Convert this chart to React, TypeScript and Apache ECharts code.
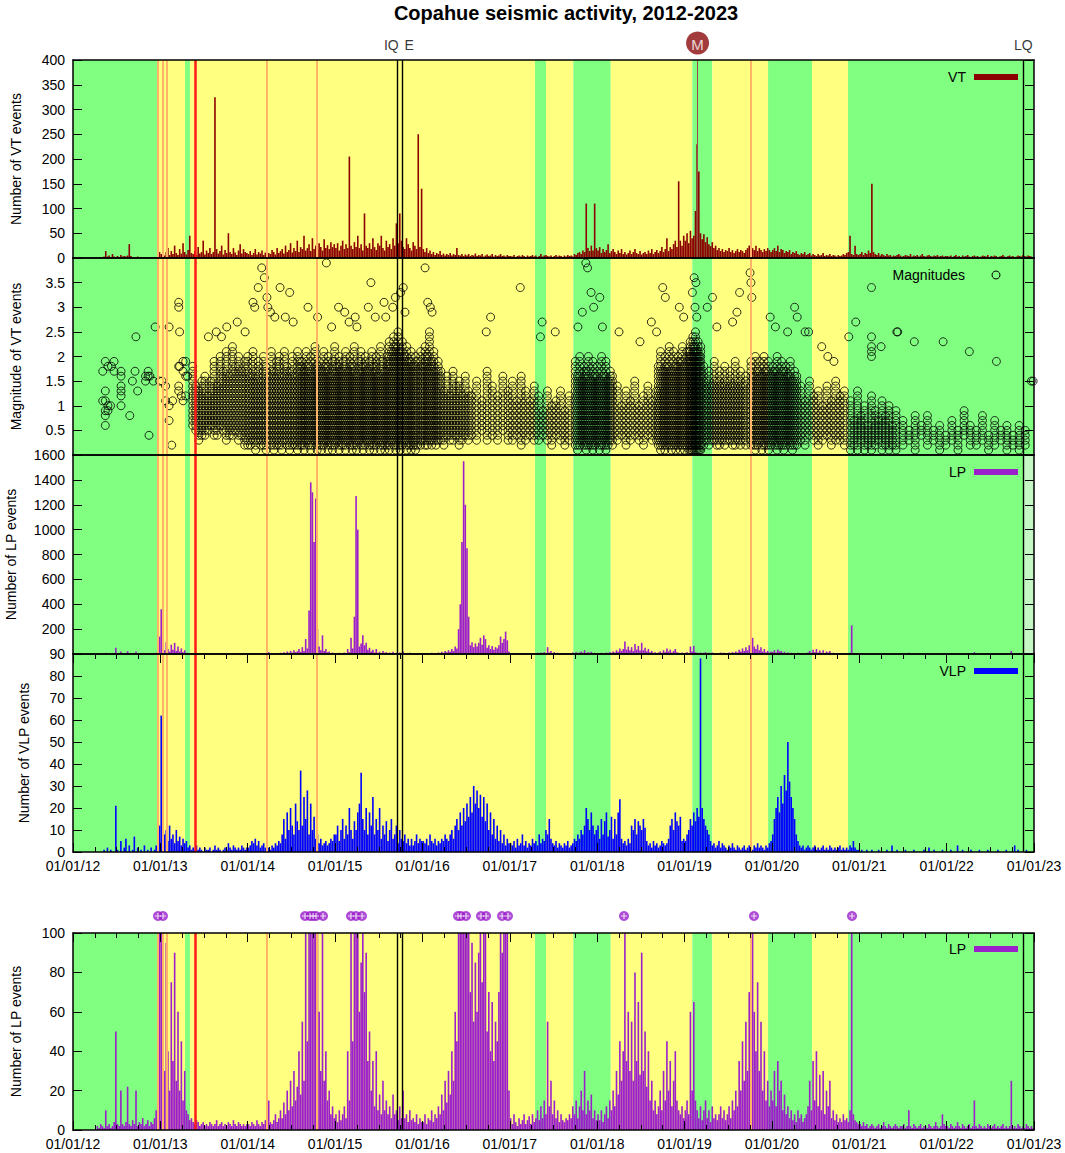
import { useEffect, useRef } from "react";
import * as echarts from "echarts";

const FONT = "'Liberation Sans', Arial, Helvetica, sans-serif";
const FIRST_YEAR = 2012;
const LAST_YEAR = 2023;
const WEEKS = 52;

// Weekly maximum of daily event counts, one row per year (2012 ... 2022), 52 weeks each.
const vtWeekly: number[] = [
  0,0,0,0,0,0,0,0,0,0,0,0,0,0,0,0,2,0,3,14,3,5,2,8,3,2,4,2,6,3,4,3,5,28,4,2,0,2,3,0,1,0,2,1,0,2,1,1,1,1,8,12,
  8,15,5,12,20,6,14,8,25,10,6,18,9,30,12,7,16,45,10,8,14,6,22,9,12,35,7,15,10,20,8,12,325,18,9,14,25,7,16,10,50,12,8,20,11,6,15,28,9,18,12,10,
  8,14,6,10,18,7,12,9,15,6,11,100,10,8,16,12,7,20,10,14,18,9,25,12,16,30,11,20,14,35,12,22,18,45,15,20,28,14,40,18,25,16,30,22,15,38,20,26,18,32,22,28,
  20,30,15,25,35,18,28,20,205,25,18,32,22,45,20,28,15,90,25,20,30,18,40,22,16,30,25,45,20,15,35,22,28,18,40,25,70,30,90,35,22,18,40,28,20,15,32,25,18,250,22,140,
  18,12,20,10,15,8,12,6,10,8,14,6,9,5,8,6,10,5,8,6,20,6,5,8,4,7,5,8,4,6,5,9,4,6,5,8,3,5,7,4,5,8,3,6,4,5,8,4,5,3,6,4,
  4,3,6,2,4,5,3,6,4,2,5,3,4,6,3,5,2,4,8,3,5,6,4,3,5,2,4,6,3,5,4,2,5,3,6,4,5,3,8,6,10,12,8,15,12,110,20,14,25,15,110,20,
  15,22,10,18,12,16,28,10,14,18,12,8,15,10,18,8,12,7,10,15,8,12,18,10,8,14,7,10,12,8,15,10,18,8,12,16,10,14,22,12,18,40,14,22,18,28,35,22,155,35,25,45,
  35,50,30,55,40,45,95,230,175,50,38,48,32,42,28,24,32,20,25,16,20,14,18,12,16,14,20,12,16,10,14,18,12,16,14,10,16,20,25,240,20,16,25,14,20,16,12,18,14,20,16,12,
  16,20,14,25,12,18,16,10,14,12,16,8,12,10,14,8,6,10,8,12,6,8,10,5,8,6,4,8,5,6,10,4,6,5,8,4,6,5,3,6,4,5,8,6,10,12,45,8,6,25,8,6,
  8,12,6,10,8,15,10,150,12,8,6,10,5,8,6,4,8,5,6,3,5,4,6,8,5,3,4,6,5,4,8,3,5,4,6,3,5,8,4,3,5,6,4,3,5,4,6,3,4,5,3,4,
  4,3,5,2,4,6,3,4,2,5,3,4,6,3,2,4,5,3,4,2,3,5,4,3,6,2,4,3,5,4,2,3,4,6,3,2,4,5,3,4,2,3,5,4,3,6,4,3,5,4,3,2,
];

const lpWeekly: number[] = [
  0,0,0,0,0,0,0,0,0,0,0,0,0,0,2,1,3,2,1,10,2,3,1,2,4,50,3,2,20,3,2,4,22,3,2,5,3,20,2,4,3,6,2,3,5,2,4,3,6,10,30,140,
  360,120,30,95,40,20,75,35,90,25,60,20,45,15,30,10,8,5,6,4,3,5,4,2,3,4,2,3,2,4,3,2,3,5,2,3,4,2,3,2,4,3,2,5,3,2,4,3,2,3,2,3,
  3,2,4,3,2,5,3,2,4,3,5,6,15,4,3,5,8,4,6,10,6,14,8,20,10,25,12,30,15,22,40,18,55,25,120,45,350,1380,1300,900,1250,200,60,30,150,25,40,15,20,8,12,6,
  8,4,10,5,8,12,6,40,15,130,45,300,1270,1000,60,85,150,70,90,35,50,20,35,12,40,10,18,8,25,10,15,8,12,6,18,8,10,5,12,6,20,6,8,4,10,5,6,4,8,3,6,4,
  4,8,3,6,5,10,4,8,6,12,8,18,10,25,14,30,18,40,25,60,45,200,400,900,1550,1200,850,300,70,95,55,85,60,90,130,75,150,120,50,70,40,65,35,55,45,70,140,90,120,180,110,20,
  6,3,8,4,2,6,3,5,8,3,5,7,3,8,4,6,10,5,12,6,15,8,55,12,25,8,15,6,10,4,8,5,4,6,5,8,6,12,8,15,6,12,20,10,30,8,15,10,18,6,10,5,
  8,5,10,4,8,12,6,15,10,20,12,30,18,45,25,40,100,35,60,30,55,25,80,35,65,28,90,30,50,22,40,15,25,10,15,8,12,20,10,30,15,45,20,35,12,25,40,15,10,8,12,6,
  10,15,8,60,20,65,15,10,6,12,5,10,15,6,10,4,12,6,8,5,8,12,6,10,5,8,12,6,15,10,20,12,35,20,45,25,55,30,70,45,130,60,40,75,30,55,20,40,15,25,12,20,
  15,30,12,35,20,25,10,18,8,12,6,10,5,8,4,10,6,8,4,6,8,12,25,10,35,15,40,12,28,10,30,8,20,12,25,6,10,5,8,4,6,4,8,5,6,4,10,230,8,5,4,3,
  3,2,4,2,3,1,2,3,2,1,2,3,1,2,4,2,1,3,2,1,2,3,2,1,2,2,3,1,2,10,2,1,3,2,1,2,3,1,2,2,1,3,2,1,2,4,2,1,2,8,3,2,
  2,1,3,2,1,2,4,2,1,3,2,1,2,3,1,2,15,2,1,3,2,1,2,1,3,2,1,2,3,1,2,1,2,3,1,2,1,2,25,1,2,1,3,2,1,2,1,3,2,1,2,1,
];

const vlpWeekly: number[] = [
  0,0,0,0,0,0,0,0,0,0,0,0,0,0,0,0,0,0,1,0,2,0,1,0,0,21,1,0,5,0,2,6,0,3,0,1,7,0,2,0,1,0,3,0,1,0,2,0,1,3,5,12,
  62,15,8,10,5,12,6,8,4,10,5,7,3,6,4,5,2,3,1,2,1,3,1,2,1,0,2,1,1,2,0,1,3,1,2,1,0,1,2,1,4,2,1,3,2,1,2,1,3,2,1,2,
  2,3,5,4,6,3,5,2,3,4,2,3,2,1,3,2,4,3,5,4,8,15,6,18,10,20,12,8,22,14,10,37,12,25,15,28,8,22,10,16,6,8,4,6,3,4,5,3,4,6,5,8,
  8,12,5,10,15,6,12,8,20,10,6,14,10,18,22,36,15,10,20,8,18,12,25,8,15,10,20,6,12,8,14,5,10,15,6,8,12,4,10,6,5,8,4,6,3,6,3,5,8,4,6,5,
  5,4,6,3,8,5,4,6,3,5,4,6,5,8,6,5,8,10,6,12,15,10,18,12,20,14,22,16,25,18,30,22,28,20,26,16,25,14,22,10,18,8,15,6,12,5,10,4,8,3,6,4,
  4,3,5,2,6,3,4,8,3,5,2,4,3,6,4,5,3,8,4,6,5,10,8,15,6,4,3,5,2,4,3,2,4,3,5,2,3,4,6,5,8,6,10,8,12,20,15,10,18,12,8,10,
  12,6,15,8,14,18,7,10,16,6,15,8,18,24,6,4,5,3,6,4,12,10,15,8,14,12,10,15,11,5,3,4,2,5,3,4,2,3,5,4,3,4,6,12,15,10,18,14,12,16,5,6,
  5,8,10,15,12,18,14,20,16,88,20,15,12,10,8,5,3,4,2,3,5,2,4,3,2,1,3,2,4,2,1,3,2,1,2,3,1,2,3,2,1,3,2,4,2,3,2,1,3,2,4,5,
  8,15,20,25,18,30,22,35,28,50,32,25,20,15,8,5,3,2,3,1,2,3,2,1,2,3,1,2,1,2,3,1,2,1,3,2,1,2,1,2,3,1,2,1,2,1,3,2,5,2,1,1,
  0,1,0,0,1,0,0,1,0,0,0,1,0,0,0,0,1,0,0,3,0,0,1,0,0,0,0,1,0,0,0,0,1,0,0,0,0,0,1,0,0,2,0,0,1,0,0,0,0,1,0,0,
  0,0,1,0,0,0,3,0,0,1,0,0,0,0,1,0,0,0,0,1,0,0,0,0,1,0,0,0,0,0,1,0,0,0,0,1,0,0,0,0,3,0,1,0,0,0,0,1,0,0,0,0,
];

// Dates of the large LP swarms (marked above the bottom panel)
const lpSwarmDates: number[] = [
  2012.973, 2013.03, 2014.656, 2014.713, 2014.748, 2014.782, 2014.862, 2015.182, 2015.239, 2015.308,
  2016.407, 2016.441, 2016.498, 2016.67, 2016.728, 2016.911, 2016.979, 2018.307, 2019.795, 2020.917,
];

// VT magnitudes (tenths). Dense periods: columns sampled every `step` years; each column
// holds every 0.1 magnitude step recorded between lo and hi.
type MagSegment = { start: number; step: number; lo: number[]; hi: number[] };
const magSegments: MagSegment[] = [
  { start: 2013.37, step: 0.035,
    lo: [6,5,3,4,4,5,6,4,4,6,5,3,4,4,5,3,4,2],
    hi: [18,14,13,15,16,12,15,19,14,20,17,21,16,22,18,20,17,19] },
  { start: 2014.0, step: 0.03,
    lo: [2,2,3,1,3,2,2,1,3,2,1,2,2,1,3,2,1,2,2,1,2],
    hi: [20,16,21,17,19,15,20,18,16,21,17,19,20,16,21,18,17,20,16,21,19] },
  { start: 2014.62, step: 0.025,
    lo: [2,1,3,2,1,2,3,1,2,1,2,3,1,2,1,2,3,1,2,2,1,3,2,1,2,1,3,2,1,2,3,1,2,1,2,3,1,2,1,2,1,3,2,1,2,1,2,3,1,2,1,2,1,2],
    hi: [19,17,21,18,20,16,22,18,19,17,21,18,20,16,19,22,18,20,17,19,21,17,20,18,22,16,19,21,18,20,17,19,21,18,20,16,22,19,17,20,23,21,24,22,25,21,23,20,22,19,21,18,20,19] },
  { start: 2015.98, step: 0.025,
    lo: [2,3,2,2,3,2,3,2,3],
    hi: [21,18,22,20,25,19,21,17,19] },
  { start: 2016.21, step: 0.035,
    lo: [3,2,4,3,3,4,2,3,4,3],
    hi: [17,13,16,12,17,14,15,12,16,13] },
  { start: 2016.56, step: 0.06,
    lo: [4,3,5,3,4,3,5,3],
    hi: [12,15,11,17,14,12,16,13] },
  { start: 2017.03, step: 0.05,
    lo: [3,4,2,3,4,3],
    hi: [15,11,16,13,11,14] },
  { start: 2017.33, step: 0.05,
    lo: [3,4,3,2,4,3,2,3],
    hi: [12,9,13,10,11,13,9,12] },
  { start: 2017.75, step: 0.025,
    lo: [2,1,2,3,2,1,2,2,1,2,3,1,2,2,1,2,3,2],
    hi: [19,16,20,15,18,17,20,15,19,16,18,15,20,16,19,15,17,16] },
  { start: 2018.23, step: 0.05,
    lo: [3,4,2,3,4,3,2,4,3,3],
    hi: [14,10,13,11,15,10,12,14,11,13] },
  { start: 2018.7, step: 0.025,
    lo: [2,1,2,1,2,2,1,2,1,2,1,2,1,2],
    hi: [18,21,17,20,18,22,17,21,18,20,19,22,18,21] },
  { start: 2019.05, step: 0.015,
    lo: [1,1,1,1,1,1,1,1,1,1],
    hi: [21,23,20,24,22,25,21,23,20,22] },
  { start: 2019.22, step: 0.03,
    lo: [2,3,2,3,3,2,2,3,2,3,3,2,2,3,2,3,2],
    hi: [18,15,17,14,19,15,17,14,18,15,17,14,19,15,17,14,16] },
  { start: 2019.76, step: 0.025,
    lo: [2,2,1,2,3,1,2,2,1,2,3,2,1,2,2,1,2,3,2,1,2,2],
    hi: [19,16,20,17,19,16,20,17,19,16,18,17,20,16,19,17,18,16,19,15,17,16] },
  { start: 2020.33, step: 0.05,
    lo: [3,2,4,3,2,3,4,2,3,3,2],
    hi: [14,11,15,12,13,10,14,11,15,12,13] },
  { start: 2020.9, step: 0.04,
    lo: [1,2,1,3,1,2,1,2,3,1,2,1,2,1],
    hi: [11,7,13,8,10,6,12,9,7,11,8,10,6,9] },
  { start: 2021.5, step: 0.07,
    lo: [2,3,1,4,2,3,1,2,3,1,4,2,2,3,1,2,3,1,2,1,2],
    hi: [7,5,8,6,8,5,6,4,7,5,9,6,5,8,4,7,5,6,4,6,5] },
];

// Individual magnitude readings [date, magnitude x10]
const magSingles: [number, number][] = [
  [2012.34,17],[2012.34,11],[2012.37,19],[2012.37,13],[2012.37,11],[2012.37,9],[2012.37,8],[2012.37,6],
  [2012.40,18],[2012.40,10],[2012.40,9],[2012.43,10],[2012.44,18],[2012.47,19],[2012.47,17],
  [2012.55,17],[2012.55,16],[2012.55,14],[2012.55,13],[2012.55,12],[2012.55,10],
  [2012.65,8],[2012.68,15],[2012.71,17],[2012.72,24],[2012.74,13],[2012.83,15],[2012.83,16],
  [2012.86,17],[2012.86,16],[2012.87,4],[2012.88,16],[2012.92,15],[2012.94,26],
  [2012.99,15],[2013.02,15],[2013.06,14],[2013.06,11],[2013.10,26],[2013.10,10],[2013.10,7],
  [2013.13,2],[2013.14,11],[2013.21,31],[2013.21,30],[2013.21,18],[2013.21,14],[2013.21,13],
  [2013.22,25],[2013.22,18],[2013.24,12],[2013.26,19],[2013.26,11],[2013.26,17],
  [2013.29,19],[2013.29,16],[2013.29,12],[2013.31,16],
  [2013.55,24],[2013.64,25],[2013.70,24],[2013.76,26],[2013.88,27],[2013.97,25],
  [2014.06,31],[2014.08,30],[2014.12,34],[2014.16,38],[2014.19,36],[2014.22,32],[2014.23,30],
  [2014.26,29],[2014.31,28],[2014.37,34],[2014.43,28],[2014.48,33],[2014.52,27],[2014.69,30],
  [2014.80,28],[2014.90,39],[2014.96,26],[2015.04,30],[2015.11,29],[2015.16,27],[2015.23,28],
  [2015.25,26],[2015.38,30],[2015.41,35],[2015.46,28],[2015.56,31],[2015.58,28],[2015.66,30],
  [2015.69,32],[2015.75,33],[2015.78,34],[2015.80,29],[2016.03,38],[2016.06,31],[2016.09,30],
  [2016.11,29],[2016.73,25],[2016.78,28],[2017.12,34],[2017.35,24],[2017.37,27],[2017.52,25],
  [2017.78,26],[2017.83,29],[2017.87,39],[2017.89,38],[2017.93,33],[2017.96,30],[2018.03,32],
  [2018.06,26],[2018.25,25],[2018.49,23],[2018.62,27],[2018.68,25],[2018.75,34],[2018.78,32],
  [2018.94,30],[2018.99,28],[2019.09,33],[2019.11,36],[2019.13,35],[2019.12,30],[2019.14,28],
  [2019.26,30],[2019.32,32],[2019.37,26],[2019.55,27],[2019.60,29],[2019.63,33],[2019.75,37],
  [2019.76,35],[2019.77,32],[2019.98,28],[2020.04,26],[2020.18,25],[2020.26,30],[2020.29,28],
  [2020.38,25],[2020.42,25],[2020.57,22],[2020.64,20],[2020.71,19],[2020.88,24],[2020.96,27],
  [2021.14,34],[2021.14,24],[2021.14,22],[2021.14,21],[2021.14,20],[2021.25,22],[2021.43,25],
  [2021.44,25],[2021.63,23],[2021.96,23],[2022.26,21],[2022.57,19],[2022.97,15],[2022.99,15],
];

// Alert-level periods (green / yellow)
const phaseEdges: number[] = [2012, 2012.962, 2013.282, 2013.339, 2017.288, 2017.414, 2017.727, 2018.155, 2019.089, 2019.318, 2019.956, 2020.459, 2020.871, 2023];
const phaseLevels: string[] = ["green","yellow","green","yellow","green","yellow","green","yellow","green","yellow","green","yellow","green"];
const orangeLines: number[] = [2012.973, 2013.027, 2013.073, 2014.217, 2014.79, 2019.757];
const redLines: number[] = [2013.402];
const blackLines: number[] = [2015.712, 2015.769, 2022.878];
const mEventDate = 2019.149;
const lqDate = 2022.878;
const topLabels = [
  { date: 2015.712, text: "IQ", dx: -6 },
  { date: 2015.769, text: "E", dx: 7 },
  { date: 2022.878, text: "LQ", dx: 0 },
];

const COLORS: Record<string, string> = { green: "#80ff80", yellow: "#ffff80" };
const VT_COLOR = "#8b0000";
const LP_COLOR = "#9b1fcb";
const VLP_COLOR = "#0000ff";

const weekDate = (i: number) => FIRST_YEAR + Math.floor(i / WEEKS) + ((i % WEEKS) + 0.5) / WEEKS;
const toBars = (arr: number[]) => arr.map((v, i) => [weekDate(i), v]);

function buildMagPoints(): number[][] {
  const pts: number[][] = [];
  magSegments.forEach((s) => {
    s.lo.forEach((lo, i) => {
      const x = s.start + i * s.step;
      const hi = s.hi[i] ?? lo;
      for (let m = lo; m <= hi; m++) pts.push([x, m / 10]);
    });
  });
  magSingles.forEach(([x, m]) => pts.push([x, m / 10]));
  return pts;
}

const PANELS = [
  { top: 60, height: 198, min: 0, max: 400, interval: 50, name: "Number of VT events", gap: 50, showMin: true, showMax: true },
  { top: 258, height: 197, min: 0, max: 4, interval: 0.5, name: "Magnitude of VT events", gap: 50, showMin: false, showMax: false },
  { top: 455, height: 199, min: 0, max: 1600, interval: 200, name: "Number of LP events", gap: 55, showMin: false, showMax: true },
  { top: 654, height: 198, min: 0, max: 90, interval: 10, name: "Number of VLP events", gap: 42, showMin: true, showMax: true },
  { top: 933, height: 197, min: 0, max: 100, interval: 20, name: "Number of LP events", gap: 50, showMin: true, showMax: true },
];
const TICKED_PANELS = [3, 4];

function buildOption() {
  const gridBase = { left: 73, width: 961, containLabel: false, outerBoundsMode: "none" };
  const grid: any[] = PANELS.map((p) => ({ ...gridBase, top: p.top, height: p.height }));
  grid.push({ ...gridBase, top: 908, height: 16 });
  grid.push({ ...gridBase, top: 31, height: 24 });

  const xAxis: any[] = [];
  const yAxis: any[] = [];
  PANELS.forEach((p, g) => {
    ["bottom", "top"].forEach((pos) => {
      const ticks = TICKED_PANELS.includes(g);
      xAxis.push({
        type: "value", gridIndex: g, position: pos, min: FIRST_YEAR, max: LAST_YEAR, interval: 1, z: 10,
        axisLine: { show: true, onZero: false, lineStyle: { color: "#000", width: 1.5 } },
        axisTick: { show: ticks, inside: true, length: 9, lineStyle: { color: "#000", width: 1 } },
        minorTick: { show: ticks, splitNumber: 4, length: 5, lineStyle: { color: "#000", width: 1 } },
        axisLabel: {
          show: ticks && pos === "bottom", color: "#000", fontSize: 14, fontFamily: FONT, margin: 7,
          formatter: (v: number) => "01/01/" + String(v).slice(2),
        },
        splitLine: { show: false }, minorSplitLine: { show: false },
      });
    });
    ["left", "right"].forEach((pos) => {
      yAxis.push({
        type: "value", gridIndex: g, position: pos, min: p.min, max: p.max, interval: p.interval, z: 10,
        name: pos === "left" ? p.name : "", nameLocation: "middle", nameRotate: 90, nameGap: p.gap,
        nameTextStyle: { color: "#000", fontSize: 14, fontFamily: FONT },
        axisLine: { show: true, onZero: false, lineStyle: { color: "#000", width: 1.5 } },
        axisTick: { show: true, inside: true, length: 9, lineStyle: { color: "#000", width: 1 } },
        axisLabel: {
          show: pos === "left", color: "#000", fontSize: 14, fontFamily: FONT, margin: 8,
          showMinLabel: p.showMin, showMaxLabel: p.showMax,
          formatter: (v: number) => String(v),
        },
        splitLine: { show: false },
      });
    });
  });
  xAxis.push({ type: "value", gridIndex: 5, min: FIRST_YEAR, max: LAST_YEAR, show: false });
  xAxis.push({ type: "value", gridIndex: 6, min: FIRST_YEAR, max: LAST_YEAR, show: false });
  yAxis.push({ type: "value", gridIndex: 5, min: 0, max: 1, show: false });
  yAxis.push({ type: "value", gridIndex: 6, min: 0, max: 1, show: false });

  const series: any[] = [];
  PANELS.forEach((_, g) => {
    const areas: any[] = phaseLevels.map((lvl, i) => [
      { xAxis: phaseEdges[i], itemStyle: { color: COLORS[lvl], opacity: 1, borderWidth: 0 } },
      { xAxis: phaseEdges[i + 1] },
    ]);
    if (g === 2) {
      areas.push([{ xAxis: lqDate, itemStyle: { color: "#c4f7c4", opacity: 1, borderWidth: 0 } }, { xAxis: LAST_YEAR }]);
    }
    series.push({
      type: "line", xAxisIndex: 2 * g, yAxisIndex: 2 * g, data: [[FIRST_YEAR, 0]], symbol: "none", showSymbol: false,
      lineStyle: { width: 0 }, z: 1, silent: true,
      markArea: { silent: true, data: areas },
    });
    const lines: any[] = [
      ...orangeLines.map((d) => ({ xAxis: d, lineStyle: { color: "#ffb468", width: 2, type: "solid" } })),
      ...redLines.map((d) => ({ xAxis: d, lineStyle: { color: "#ff1a1a", width: 2.5, type: "solid" } })),
      ...blackLines.map((d) => ({ xAxis: d, lineStyle: { color: "#000", width: 1.4, type: "solid" } })),
    ];
    if (g === 0) lines.push({ xAxis: mEventDate, lineStyle: { color: "#a04848", width: 1, type: "solid" } });
    series.push({
      type: "line", xAxisIndex: 2 * g, yAxisIndex: 2 * g, data: [[FIRST_YEAR, 0]], symbol: "none", showSymbol: false,
      lineStyle: { width: 0 }, z: 2, silent: true,
      markLine: { silent: true, symbol: ["none", "none"], label: { show: false }, data: lines },
    });
  });

  const bar = (data: number[][], g: number, color: string) => ({
    type: "bar", xAxisIndex: 2 * g, yAxisIndex: 2 * g, data, barWidth: 1.6, clip: true, silent: true,
    itemStyle: { color }, z: 3, progressive: 0,
  });
  series.push(bar(toBars(vtWeekly), 0, VT_COLOR));
  series.push({
    type: "scatter", xAxisIndex: 2, yAxisIndex: 2, data: buildMagPoints(), symbol: "circle", symbolSize: 8,
    itemStyle: { color: "rgba(0,0,0,0)", borderColor: "#000", borderWidth: 1 }, z: 3, silent: true,
    progressive: 0, large: false,
  });
  series.push(bar(toBars(lpWeekly), 2, LP_COLOR));
  series.push(bar(toBars(vlpWeekly), 3, VLP_COLOR));
  series.push(bar(toBars(lpWeekly), 4, LP_COLOR));

  const swarms = lpSwarmDates.map((d) => [d, 0.5]);
  series.push({
    type: "scatter", xAxisIndex: 10, yAxisIndex: 10, data: swarms, symbol: "circle", symbolSize: 10,
    itemStyle: { color: LP_COLOR }, z: 3, silent: true,
  });
  series.push({
    type: "scatter", xAxisIndex: 10, yAxisIndex: 10, data: swarms,
    symbol: "path://M4,0H6V4H10V6H6V10H4V6H0V4H4Z", symbolSize: 6,
    itemStyle: { color: "#fff" }, z: 4, silent: true,
  });
  series.push({
    type: "scatter", xAxisIndex: 11, yAxisIndex: 11, silent: true, z: 3,
    symbolSize: 1, itemStyle: { color: "rgba(0,0,0,0)" },
    label: { show: true, position: "inside", color: "#000", fontSize: 14, fontFamily: FONT },
    data: [
      ...topLabels.map((t) => ({ value: [t.date, 0.5], label: { formatter: t.text, offset: [t.dx, 2] } })),
      {
        value: [mEventDate, 0.5], symbolSize: 23, itemStyle: { color: "#8b0a0a" },
        label: { formatter: "M", color: "#fff", fontSize: 15, offset: [0, 1] },
      },
    ],
  });

  const legendItems = [
    { text: "VT", y: 77, color: VT_COLOR },
    { text: "LP", y: 472, color: LP_COLOR },
    { text: "VLP", y: 671, color: VLP_COLOR },
    { text: "LP", y: 949, color: LP_COLOR },
  ];
  const txt = (x: number, y: number, text: string, align: string, size = 14, weight = "normal") => ({
    type: "text", x, y, z: 100,
    style: {
      text, fill: "#000", fontSize: size, fontFamily: FONT, fontWeight: weight,
      textAlign: align, align, textVerticalAlign: "middle", verticalAlign: "middle",
    },
  });
  const graphic: any[] = [
    txt(566, 13, "Copahue seismic activity, 2012-2023", "center", 20, "bold"),
    ...legendItems.flatMap((l) => [
      txt(966, l.y, l.text, "right"),
      { type: "rect", z: 100, shape: { x: 974, y: l.y - 3, width: 44, height: 6 }, style: { fill: l.color } },
    ]),
    txt(965, 275, "Magnitudes", "right"),
    { type: "circle", z: 100, shape: { cx: 996, cy: 275, r: 4 }, style: { fill: "none", stroke: "#000", lineWidth: 1 } },
  ];

  return {
    animation: false,
    backgroundColor: "#fff",
    textStyle: { fontFamily: FONT },
    grid, xAxis, yAxis, series, graphic,
  };
}

export default function App() {
  const ref = useRef<HTMLDivElement>(null);
  useEffect(() => {
    if (!ref.current) return;
    const chart = echarts.init(ref.current, undefined, { renderer: "svg" });
    chart.setOption(buildOption() as any);
    return () => chart.dispose();
  }, []);
  return <div ref={ref} style={{ position: "absolute", left: 0, top: 0, width: 1065, height: 1153 }} />;
}
